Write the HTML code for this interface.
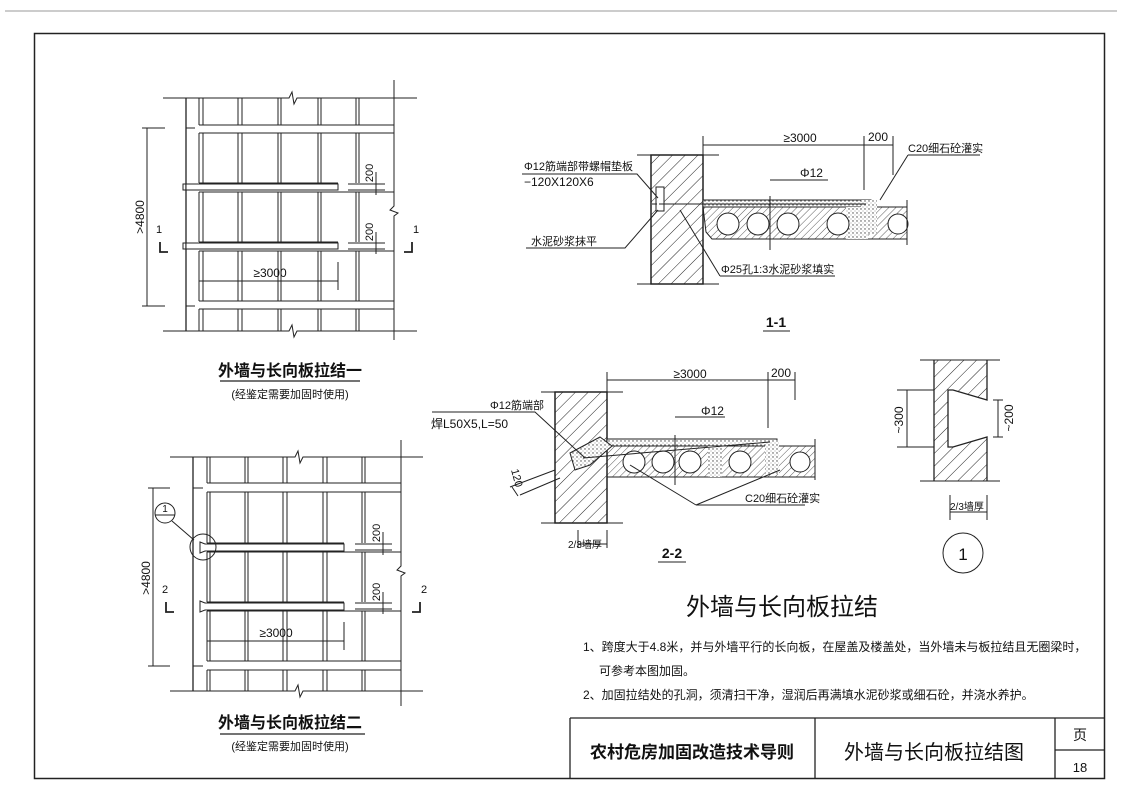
<!DOCTYPE html>
<html><head><meta charset="utf-8"><style>
html,body{margin:0;padding:0;background:#fff}
svg{display:block}
text{font-family:"Liberation Sans","Noto Sans CJK SC",sans-serif;fill:#111}
</style></head><body>
<svg width="1122" height="793" viewBox="0 0 1122 793" xmlns="http://www.w3.org/2000/svg">
<defs>
<pattern id="h" width="9" height="9" patternUnits="userSpaceOnUse" patternTransform="rotate(45)">
<line x1="0" y1="0" x2="0" y2="9" stroke="#222" stroke-width="1"/></pattern>
<pattern id="hs" width="5" height="5" patternUnits="userSpaceOnUse" patternTransform="rotate(45)">
<line x1="0" y1="0" x2="0" y2="5" stroke="#333" stroke-width="0.8"/></pattern>
<pattern id="dot" width="4" height="4" patternUnits="userSpaceOnUse">
<rect width="4" height="4" fill="#fff"/><circle cx="1" cy="1" r="0.7" fill="#444"/><circle cx="3" cy="3" r="0.5" fill="#777"/></pattern>
</defs>
<line x1="5" y1="11" x2="1117" y2="11" stroke="#bbb" stroke-width="1.5"/>
<rect x="34.5" y="33.5" width="1070" height="745" fill="none" stroke="#222" stroke-width="1.5"/>
<!-- title block -->
<g stroke="#222" stroke-width="1.3" fill="none">
<line x1="570" y1="718" x2="1105" y2="718"/>
<line x1="570" y1="718" x2="570" y2="779"/>
<line x1="815" y1="718" x2="815" y2="779"/>
<line x1="1055" y1="718" x2="1055" y2="779"/>
<line x1="1055" y1="750" x2="1105" y2="750"/>
</g>
<text x="692" y="758" font-size="17" font-weight="bold" text-anchor="middle">农村危房加固改造技术导则</text>
<text x="934" y="759" font-size="20" text-anchor="middle">外墙与长向板拉结图</text>
<text x="1080" y="740" font-size="14" text-anchor="middle">页</text>
<text x="1080" y="772" font-size="13" text-anchor="middle">18</text>

<!-- PLAN 1 -->
<g stroke="#222" stroke-width="1" fill="none">
<polyline points="163,98 289,98 292,92 294,104 297,98 417,98"/>
<polyline points="163,331 289,331 292,325 294,337 297,331 417,331"/>
<line x1="186" y1="98" x2="186" y2="331" stroke-width="1.3"/>
<polyline points="394,80 394,206 390,210 398,213 394,216 394,340"/>
<line x1="199" y1="98" x2="199" y2="125"/><line x1="203" y1="98" x2="203" y2="125"/>
<line x1="199" y1="125" x2="394" y2="125"/><line x1="199" y1="133" x2="394" y2="133"/>
<line x1="199" y1="183" x2="338" y2="183"/><line x1="199" y1="192" x2="394" y2="192"/>
<line x1="199" y1="242" x2="338" y2="242"/><line x1="199" y1="251" x2="394" y2="251"/>
<line x1="199" y1="301" x2="394" y2="301"/><line x1="199" y1="309" x2="394" y2="309"/>
<line x1="186" y1="128" x2="195" y2="128"/><line x1="186" y1="306" x2="195" y2="306"/>
<g>
<path d="M199 133V183M203 133V183M199 192V242M203 192V242M199 251V301M203 251V301M199 309V331M203 309V331"/>
<path d="M238 98V125M242 98V125M278 98V125M281 98V125M318 98V125M321 98V125M356 98V125M359 98V125"/>
<path d="M238 133V183M242 133V183M278 133V183M281 133V183M318 133V183M321 133V183M356 133V183M359 133V183"/>
<path d="M238 192V242M242 192V242M278 192V242M281 192V242M318 192V242M321 192V242M356 192V242M359 192V242"/>
<path d="M238 251V301M242 251V301M278 251V301M281 251V301M318 251V301M321 251V301M356 251V301M359 251V301"/>
<path d="M238 309V331M242 309V331M278 309V331M281 309V331M318 309V331M321 309V331M356 309V331M359 309V331"/>
</g>
<rect x="186" y="184" width="152" height="6" fill="#fff"/>
<rect x="186" y="243" width="152" height="6" fill="#fff"/>
<path d="M183 184h3v6h-3zM183 243h3v6h-3z"/>
<line x1="147" y1="128" x2="147" y2="306"/>
<line x1="142" y1="128" x2="165" y2="128"/><line x1="142" y1="306" x2="165" y2="306"/>
<line x1="199" y1="281" x2="338" y2="281"/><line x1="338" y1="262" x2="338" y2="290"/><line x1="199" y1="275" x2="199" y2="290"/>
<path d="M348 184h37M348 190h37M348 243h37M348 249h37M376 172V195M376 232V254"/>
<path d="M160 242v10h8M412 242v10h-8" stroke-width="1.8"/>
</g>
<text transform="translate(144,217) rotate(-90)" font-size="12" text-anchor="middle">&gt;4800</text>
<text transform="translate(373,173) rotate(-90)" font-size="11" text-anchor="middle">200</text>
<text transform="translate(373,232) rotate(-90)" font-size="11" text-anchor="middle">200</text>
<text x="270" y="277" font-size="12" text-anchor="middle">≥3000</text>
<text x="156" y="233" font-size="11">1</text><text x="413" y="233" font-size="11">1</text>
<text x="290" y="376" font-size="16" font-weight="bold" text-anchor="middle">外墙与长向板拉结一</text>
<line x1="220" y1="381" x2="360" y2="381" stroke="#222" stroke-width="1.2"/>
<text x="290" y="398" font-size="11" text-anchor="middle">(经鉴定需要加固时使用)</text>

<!-- PLAN 2 -->
<g stroke="#222" stroke-width="1" fill="none">
<polyline points="170,457 295,457 298,451 300,463 303,457 423,457"/>
<polyline points="170,691 295,691 298,685 300,697 303,691 423,691"/>
<line x1="193" y1="457" x2="193" y2="691" stroke-width="1.3"/>
<polyline points="401,440 401,566 397,570 405,573 401,576 401,706"/>
<line x1="207" y1="483" x2="401" y2="483"/><line x1="207" y1="492" x2="401" y2="492"/>
<line x1="207" y1="543" x2="344" y2="543"/><line x1="207" y1="552" x2="401" y2="552"/>
<line x1="207" y1="602" x2="344" y2="602"/><line x1="207" y1="611" x2="401" y2="611"/>
<line x1="207" y1="661" x2="401" y2="661"/><line x1="207" y1="670" x2="401" y2="670"/>
<line x1="193" y1="488" x2="203" y2="488"/><line x1="193" y1="666" x2="203" y2="666"/>
<path d="M207 457V483M210 457V483M207 492V543M210 492V543M207 552V602M210 552V602M207 611V661M210 611V661M207 670V691M210 670V691"/>
<path d="M245 457V483M248 457V483M283 457V483M287 457V483M323 457V483M327 457V483M362 457V483M365 457V483"/>
<path d="M245 492V543M248 492V543M283 492V543M287 492V543M323 492V543M327 492V543M362 492V543M365 492V543"/>
<path d="M245 552V602M248 552V602M283 552V602M287 552V602M323 552V602M327 552V602M362 552V602M365 552V602"/>
<path d="M245 611V661M248 611V661M283 611V661M287 611V661M323 611V661M327 611V661M362 611V661M365 611V661"/>
<path d="M245 670V691M248 670V691M283 670V691M287 670V691M323 670V691M327 670V691M362 670V691M365 670V691"/>
<path d="M200 542L205 544H344V551H205L200 553Z" fill="#fff"/>
<path d="M200 601L205 603H344V610H205L200 612Z" fill="#fff"/>
<circle cx="203" cy="547" r="13"/>
<circle cx="165" cy="513" r="10"/><line x1="155" y1="515" x2="175" y2="515"/>
<line x1="172" y1="521" x2="194" y2="540"/>
<line x1="153" y1="488" x2="153" y2="666"/>
<line x1="148" y1="488" x2="170" y2="488"/><line x1="148" y1="666" x2="170" y2="666"/>
<line x1="207" y1="641" x2="344" y2="641"/><line x1="344" y1="622" x2="344" y2="650"/>
<path d="M355 544h37M355 550h37M355 603h37M355 609h37M383 532V555M383 592V614"/>
<path d="M166 602v10h8M420 602v10h-8" stroke-width="1.8"/>
</g>
<text x="165" y="512" font-size="10" text-anchor="middle">1</text>
<text transform="translate(150,578) rotate(-90)" font-size="12" text-anchor="middle">&gt;4800</text>
<text transform="translate(380,533) rotate(-90)" font-size="11" text-anchor="middle">200</text>
<text transform="translate(380,592) rotate(-90)" font-size="11" text-anchor="middle">200</text>
<text x="276" y="637" font-size="12" text-anchor="middle">≥3000</text>
<text x="162" y="593" font-size="11">2</text><text x="421" y="593" font-size="11">2</text>
<text x="290" y="728" font-size="16" font-weight="bold" text-anchor="middle">外墙与长向板拉结二</text>
<line x1="220" y1="734" x2="365" y2="734" stroke="#222" stroke-width="1.2"/>
<text x="290" y="750" font-size="11" text-anchor="middle">(经鉴定需要加固时使用)</text>

<!-- SECTION 1-1 -->
<g stroke="#222" stroke-width="1" fill="none">
<rect x="651" y="155" width="52" height="129" fill="url(#h)" stroke-width="1.5"/>
<path d="M637 155h82M637 284h82"/>
<rect x="703" y="200" width="168" height="7" fill="url(#dot)"/>
<path d="M703 207H907V239H712L706 232Z" fill="url(#hs)"/>
<rect x="846" y="207" width="22" height="32" fill="url(#dot)" stroke="none"/>
<rect x="861" y="200" width="16" height="34" fill="url(#dot)" stroke="none"/>
<g fill="#fff"><circle cx="728" cy="224" r="11"/><circle cx="758" cy="224" r="11"/><circle cx="788" cy="224" r="11"/><circle cx="838" cy="224" r="11"/><circle cx="898" cy="224" r="10"/></g>
<line x1="907" y1="200" x2="907" y2="245"/>
<rect x="656" y="187" width="8" height="24" fill="#fff"/>
<line x1="652" y1="204" x2="700" y2="204" stroke-dasharray="5,2"/>
<line x1="663" y1="204" x2="866" y2="204"/>
<line x1="770" y1="196" x2="770" y2="250"/>
<path d="M703 145H893M703 136V160M864 136V190M893 136V175"/>
<path d="M522 174H637L658 198"/>
<path d="M526 248H625L658 210"/>
<path d="M720 276H835M720 276L680 210"/>
<path d="M770 180H828"/>
<path d="M908 155H980M908 155L880 200"/>
</g>
<text x="524" y="170" font-size="11">Φ12筋端部带螺帽垫板</text>
<text x="524" y="186" font-size="12">−120X120X6</text>
<text x="531" y="245" font-size="11">水泥砂浆抹平</text>
<text x="721" y="273" font-size="11">Φ25孔1:3水泥砂浆填实</text>
<text x="800" y="177" font-size="12">Φ12</text>
<text x="800" y="142" font-size="12" text-anchor="middle">≥3000</text>
<text x="878" y="141" font-size="12" text-anchor="middle">200</text>
<text x="908" y="152" font-size="11">C20细石砼灌实</text>
<text x="776" y="327" font-size="14" font-weight="bold" text-anchor="middle">1-1</text>
<line x1="763" y1="331" x2="790" y2="331" stroke="#222"/>

<!-- SECTION 2-2 -->
<g stroke="#222" stroke-width="1" fill="none">
<rect x="555" y="392" width="52" height="131" fill="url(#h)" stroke-width="1.5"/>
<path d="M541 392h82M541 523h82"/>
<rect x="607" y="439" width="170" height="7" fill="url(#dot)"/>
<path d="M607 446H815V477H607Z" fill="url(#hs)"/>
<path d="M570 453L600 437L612 446L590 465L575 470Z" fill="url(#dot)"/>
<rect x="708" y="446" width="14" height="31" fill="url(#dot)" stroke="none"/>
<rect x="765" y="440" width="14" height="34" fill="url(#dot)" stroke="none"/>
<g fill="#fff"><circle cx="634" cy="462" r="11"/><circle cx="663" cy="462" r="11"/><circle cx="690" cy="462" r="11"/><circle cx="740" cy="462" r="11"/><circle cx="800" cy="462" r="10"/></g>
<line x1="815" y1="439" x2="815" y2="480"/>
<line x1="583" y1="458" x2="770" y2="442"/>
<line x1="675" y1="435" x2="675" y2="485"/>
<path d="M607 380H795M607 372V400M768 372V428M795 372V400"/>
<path d="M432 412H535L585 458"/>
<path d="M675 417H725"/>
<path d="M696 505H805M696 505L630 465M696 505L780 470"/>
<path d="M510 487L555 470M520 495L560 478M512 487L518 496"/>
<path d="M578 530V548M607 530V548M578 544H607"/>
</g>
<text x="490" y="409" font-size="11">Φ12筋端部</text>
<text x="431" y="428" font-size="12">焊L50X5,L=50</text>
<text x="701" y="415" font-size="12">Φ12</text>
<text x="690" y="378" font-size="12" text-anchor="middle">≥3000</text>
<text x="781" y="377" font-size="12" text-anchor="middle">200</text>
<text x="745" y="502" font-size="11">C20细石砼灌实</text>
<text transform="translate(511,470) rotate(75)" font-size="11">120</text>
<text x="568" y="548" font-size="10">2/3墙厚</text>
<text x="672" y="558" font-size="14" font-weight="bold" text-anchor="middle">2-2</text>
<line x1="658" y1="562" x2="686" y2="562" stroke="#222"/>

<!-- DETAIL 1 -->
<g stroke="#222" stroke-width="1" fill="none">
<path d="M934 360H987V400L953 390H948V447H953L987 437V481H934Z" fill="url(#h)" stroke="none"/>
<path d="M934 360V481M987 360V400L953 390H948V447H953L987 437V481" stroke-width="1.3"/>
<path d="M920 360H1000M920 481H1000"/>
<path d="M907 390V447M897 390H934M897 447H934"/>
<path d="M998 400V437M993 400H1003M993 437H1003"/>
<path d="M950 495V520M987 495V520M950 512H987"/>
<circle cx="963" cy="553" r="20"/>
</g>
<text transform="translate(903,420) rotate(-90)" font-size="12" text-anchor="middle">~300</text>
<text transform="translate(1013,418) rotate(-90)" font-size="12" text-anchor="middle">~200</text>
<text x="950" y="510" font-size="10">2/3墙厚</text>
<text x="963" y="560" font-size="17" text-anchor="middle">1</text>

<!-- Notes -->
<text x="782" y="615" font-size="24" text-anchor="middle">外墙与长向板拉结</text>
<text x="583" y="651" font-size="12">1、跨度大于4.8米，并与外墙平行的长向板，在屋盖及楼盖处，当外墙未与板拉结且无圈梁时，</text>
<text x="599" y="675" font-size="12">可参考本图加固。</text>
<text x="583" y="699" font-size="12">2、加固拉结处的孔洞，须清扫干净，湿润后再满填水泥砂浆或细石砼，并浇水养护。</text>
</svg>
</body></html>
